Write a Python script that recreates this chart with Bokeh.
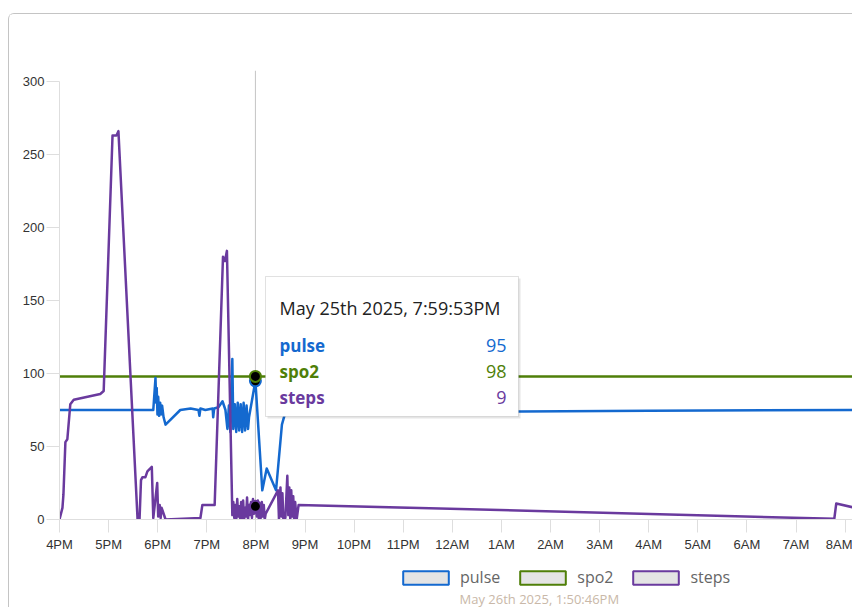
from bokeh.plotting import figure
from bokeh.layouts import column
from bokeh.models import (Range1d, FixedTicker, Legend, LegendItem, Span,
                          BoxAnnotation, Label)
from bokeh.embed import file_html
from bokeh.resources import INLINE

# ---------------- data (x = hours after 4PM, May 25th 2025) ----------------
series_names = ["pulse", "spo2", "steps"]
series_colors = ["#1469cf", "#4f7f08", "#6a3a9e"]

pulse_t = [0, 1.91, 1.955, 1.97, 1.98, 1.995, 2.01, 2.03, 2.05, 2.07,
           2.09, 2.12, 2.16, 2.46, 2.67, 2.83, 2.85, 2.87, 2.97, 3.12,
           3.13, 3.15, 3.24, 3.32, 3.38, 3.42, 3.45, 3.48, 3.50, 3.52,
           3.54, 3.57, 3.60, 3.63, 3.66, 3.69, 3.72, 3.75, 3.78, 3.81,
           3.84, 3.86, 3.99, 4.13, 4.22, 4.41, 4.53, 4.63, 4.8, 5.5,
           9.4, 12.0, 16.2]
pulse_v = [75, 75, 97, 80, 90, 72, 84, 71, 80, 72,
           78, 70, 65, 75, 76, 75, 71, 76, 75, 76,
           70, 76, 77, 81, 75, 62, 78, 60, 80, 110,
           62, 79, 60, 80, 61, 79, 60, 80, 61, 78,
           62, 70, 95, 20, 35, 20, 65, 77, 75, 74,
           74, 74.5, 75]

spo2_t = [0, 3.99, 16.2]
spo2_v = [98, 98, 98]

steps_t = [0, 0.06, 0.08, 0.12, 0.16, 0.22, 0.29, 0.83, 0.90, 1.08,
           1.16, 1.20, 1.59, 1.63, 1.66, 1.69, 1.75, 1.79, 1.88, 1.91,
           1.99, 2.01, 2.04, 2.06, 2.08, 2.16, 2.87, 2.91, 3.16, 3.33,
           3.37, 3.41, 3.52, 3.54, 3.56, 3.58, 3.60, 3.62, 3.64, 3.66,
           3.68, 3.70, 3.72, 3.74, 3.76, 3.78, 3.80, 3.82, 3.84, 3.86,
           3.88, 3.90, 3.92, 3.94, 3.96, 3.99, 4.02, 4.04, 4.06, 4.08,
           4.10, 4.12, 4.14, 4.16, 4.18, 4.20, 4.45, 4.47, 4.50, 4.52,
           4.54, 4.56, 4.60, 4.64, 4.66, 4.68, 4.70, 4.72, 4.74, 4.76,
           4.78, 4.80, 4.83, 4.87, 15.78, 15.82, 16.2]
steps_v = [0, 8, 17, 53, 55, 79, 82, 86, 88, 263,
           263, 266, 0, 0, 27, 29, 29, 33, 36, 1,
           25, 2, 10, 1, 8, 0, 1, 10, 10, 180,
           177, 184, 3, 12, 1, 10, 0, 14, 2, 9,
           0, 12, 1, 13, 0, 8, 2, 15, 0, 10,
           3, 12, 1, 14, 4, 9, 2, 13, 0, 11,
           1, 12, 2, 10, 0, 4, 20, 0, 22, 2,
           18, 0, 1, 30, 3, 22, 0, 20, 2, 16,
           0, 12, 0, 10, 0.5, 11, 8]

x_ticks = list(range(17))
x_tick_labels = ["4PM", "5PM", "6PM", "7PM", "8PM", "9PM", "10PM", "11PM",
                 "12AM", "1AM", "2AM", "3AM", "4AM", "5AM", "6AM", "7AM", "8AM"]
y_ticks = [0, 50, 100, 150, 200, 250, 300]

hover_t = 3.99
hover_title = "May 25th 2025, 7:59:53PM"
footer_text = "May 26th 2025, 1:50:46PM"

# ---------------- layout helpers (window pixel -> data coords) -------------
X0_PX, PX_PER_H = 59.0, 49.1
Y0_PX, PX_PER_U = 519.0, 1.46


def hx(px):
    return (px - X0_PX) / PX_PER_H


def vy(py):
    return (Y0_PX - py) / PX_PER_U


W = 843
p = figure(width=W, height=546, output_backend="svg", toolbar_location=None,
           x_range=Range1d(0, hx(852)), y_range=Range1d(0, vy(70)),
           min_border_left=50, min_border_top=56, min_border_right=0,
           min_border_bottom=41)
p.outline_line_color = None
p.xgrid.visible = False
p.ygrid.visible = False

LABEL_FONT = "Liberation Sans"
for ax in (p.xaxis[0], p.yaxis[0]):
    ax.axis_line_color = "#dedede"
    ax.major_tick_line_color = "#dedede"
    ax.minor_tick_line_color = None
    ax.major_tick_in = 0
    ax.major_tick_out = 13
    ax.major_label_text_font = LABEL_FONT
    ax.major_label_text_font_size = "13px"
    ax.major_label_text_color = "#333333"

p.xaxis.ticker = FixedTicker(ticks=x_ticks)
p.xaxis.major_label_overrides = {t: l for t, l in zip(x_ticks, x_tick_labels)}
p.xaxis.major_label_standoff = 4
p.yaxis.ticker = FixedTicker(ticks=y_ticks)
p.yaxis.major_label_standoff = 2
p.yaxis.bounds = (0, 300)

# crosshair
p.add_layout(Span(location=hover_t, dimension="height", line_color="#c4c4c4",
                  line_width=1, level="underlay"))

xs = [pulse_t, spo2_t, steps_t]
ys = [pulse_v, spo2_v, steps_v]
draw_order = [1, 0, 2]
for i in draw_order:
    p.line(xs[i], ys[i], line_color=series_colors[i], line_width=2.5,
           line_join="round")

hover_vals = [ys[i][xs[i].index(hover_t)] for i in range(3)]
p.scatter([hover_t] * 3, [hover_vals[0], hover_vals[1], hover_vals[2]],
          size=11, fill_color="black", line_color=series_colors, line_width=2)

# tooltip
p.add_layout(BoxAnnotation(left=hx(267), right=hx(520), top=vy(278), bottom=vy(418),
                           fill_color="#000000", fill_alpha=0.10, line_color=None,
                           level="annotation"))
p.add_layout(BoxAnnotation(left=hx(265), right=hx(518), top=vy(276), bottom=vy(416),
                           fill_color="white", fill_alpha=1.0, line_color="#9a9a9a",
                           line_width=1, level="annotation"))
TIP_FONT = "Open Sans"
p.add_layout(Label(x=hx(279), y=vy(307.5), text=hover_title, text_baseline="alphabetic",
                   text_font=TIP_FONT, text_font_size="18px",
                   text_color="#222222"))
row_base = [345, 371, 396.5]
for i in range(3):
    p.add_layout(Label(x=hx(279), y=vy(row_base[i]), text=series_names[i],
                       text_baseline="alphabetic", text_font=TIP_FONT,
                       text_font_size="17px", text_font_style="bold",
                       text_color=series_colors[i]))
    v = hover_vals[i]
    p.add_layout(Label(x=hx(506), y=vy(row_base[i]),
                       text=str(int(v)) if float(v).is_integer() else str(v),
                       text_baseline="alphabetic", text_align="right",
                       text_font=TIP_FONT, text_font_size="18px",
                       text_color=series_colors[i]))

# ---------------- legend strip below the chart ----------------
q = figure(width=W, height=47, output_backend="svg", toolbar_location=None,
           x_range=Range1d(0, 1), y_range=Range1d(0, 1),
           x_axis_type=None, y_axis_type=None,
           min_border_left=0, min_border_right=0, min_border_top=0,
           min_border_bottom=0)
q.outline_line_color = None
q.xgrid.visible = False
q.ygrid.visible = False

items = []
for name, col in zip(series_names, series_colors):
    # legend proxy glyph, kept outside the visible range of the strip
    r = q.quad(left=[-3], right=[-2], top=[-2], bottom=[-3], fill_color="#e4e4e4",
               line_color=col, line_width=2)
    items.append(LegendItem(label=name, renderers=[r]))
legend = Legend(items=items, orientation="horizontal", location=(338, 19),
                glyph_width=57, glyph_height=17, label_standoff=6, spacing=14,
                padding=0, margin=0, border_line_color=None,
                background_fill_alpha=0, label_height=17,
                label_text_font="Open Sans", label_text_font_size="16px",
                label_text_color="#666666")
q.add_layout(legend, "center")

q.add_layout(Label(x=400, y=18, x_units="screen", y_units="screen",
                   text=footer_text, text_baseline="top",
                   text_font="Open Sans", text_font_size="13px",
                   text_color="#c9b8a8"))

layout = column(p, q, spacing=0)
layout.margin = (13, 0, 0, 8)
layout.styles = {"border-left": "1px solid #c4c4c4", "border-top": "1px solid #c4c4c4",
                 "border-top-left-radius": "6px"}

open("out.html", "w").write(file_html(layout, INLINE))
